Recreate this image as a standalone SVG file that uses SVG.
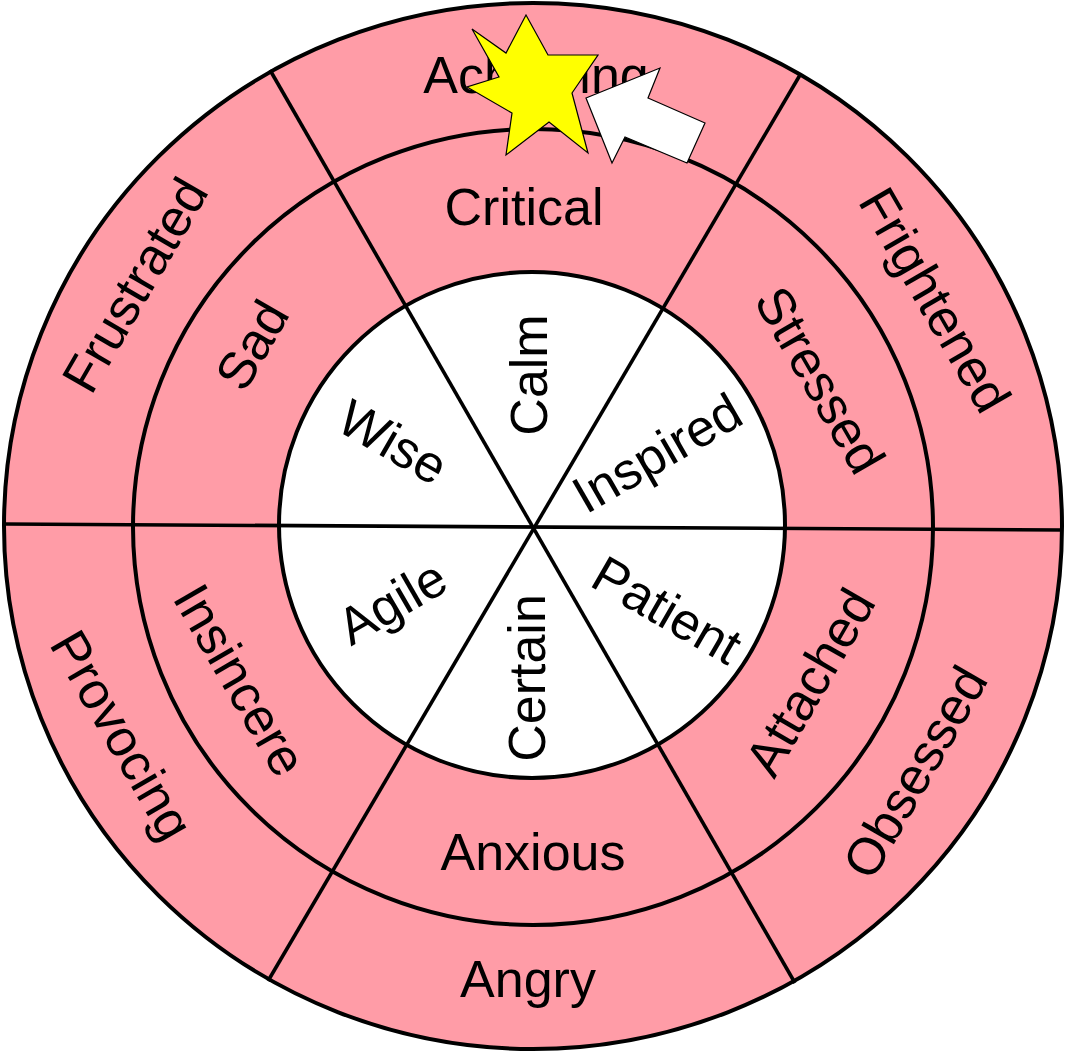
<svg xmlns="http://www.w3.org/2000/svg" width="1065" height="1052" viewBox="0 0 1065 1052">
<style>
.ring{fill:#FF9CA7;stroke:#000;stroke-width:4}
.core{fill:#FFFFFF;stroke:#000;stroke-width:4}
.line{stroke:#000;stroke-width:3.6;fill:none}
.lbl{font-family:"Liberation Sans",Arial,sans-serif;font-size:52px;fill:#000;text-anchor:middle}
</style>
<rect width="1065" height="1052" fill="#FFFFFF"/>
<g id="outer-ring"><ellipse class="ring" cx="533" cy="526" rx="529" ry="523"/></g>
<g id="middle-ring"><ellipse class="ring" cx="533" cy="527" rx="400" ry="398"/></g>
<g id="inner-ring"><ellipse class="core" cx="532" cy="525" rx="253" ry="253"/></g>
<g id="connectors">
<line class="line" x1="4" y1="524" x2="1062" y2="530"/>
<line class="line" x1="270" y1="70" x2="795" y2="983"/>
<line class="line" x1="800" y1="75" x2="268" y2="981"/>
</g>
<g id="labels-outer">
<g id="achieving"><text class="lbl" x="536" y="93">Achieving</text></g>
<g id="frightened"><text class="lbl" transform="translate(935,300) rotate(60)" x="0" y="18">Frightened</text></g>
<g id="obsessed"><text class="lbl" transform="translate(915,772) rotate(-60)" x="0" y="18">Obsessed</text></g>
<g id="angry"><text class="lbl" x="528" y="997">Angry</text></g>
<g id="provocing"><text class="lbl" transform="translate(122,735) rotate(60)" x="0" y="18">Provocing</text></g>
<g id="frustrated"><text class="lbl" transform="translate(135,285) rotate(-60)" x="0" y="18">Frustrated</text></g>
</g>
<g id="labels-middle">
<g id="critical"><text class="lbl" x="524" y="225">Critical</text></g>
<g id="stressed"><text class="lbl" transform="translate(820,380) rotate(60)" x="0" y="18">Stressed</text></g>
<g id="attached"><text class="lbl" transform="translate(810,682) rotate(-60)" x="0" y="18">Attached</text></g>
<g id="anxious"><text class="lbl" x="533" y="870">Anxious</text></g>
<g id="insincere"><text class="lbl" transform="translate(240,680) rotate(60)" x="0" y="18">Insincere</text></g>
<g id="sad"><text class="lbl" transform="translate(252,345) rotate(-60)" x="0" y="18">Sad</text></g>
</g>
<g id="labels-inner">
<g id="calm"><text class="lbl" transform="translate(529,375) rotate(-90)" x="0" y="18">Calm</text></g>
<g id="inspired"><text class="lbl" transform="translate(657,453) rotate(-30)" x="0" y="18">Inspired</text></g>
<g id="patient"><text class="lbl" transform="translate(667,610) rotate(30)" x="0" y="18">Patient</text></g>
<g id="certain"><text class="lbl" transform="translate(527,678) rotate(-90)" x="0" y="18">Certain</text></g>
<g id="agile"><text class="lbl" transform="translate(392,602) rotate(-30)" x="0" y="18">Agile</text></g>
<g id="wise"><text class="lbl" transform="translate(393,442) rotate(30)" x="0" y="18">Wise</text></g>
</g>
<g id="star"><polygon points="526,15 548,55 598,55 572,93 588,153 549,122 506,155 512,113 467,87 499,77 472,29 506,53" fill="#FFFF00" stroke="#000" stroke-width="1.2" stroke-linejoin="miter"/></g>
<g id="arrow"><polygon points="586,98 660,68 648,98 705,123 687,163 625,137 612,163" fill="#FFFFFF" stroke="#000" stroke-width="1.2"/></g>
</svg>
